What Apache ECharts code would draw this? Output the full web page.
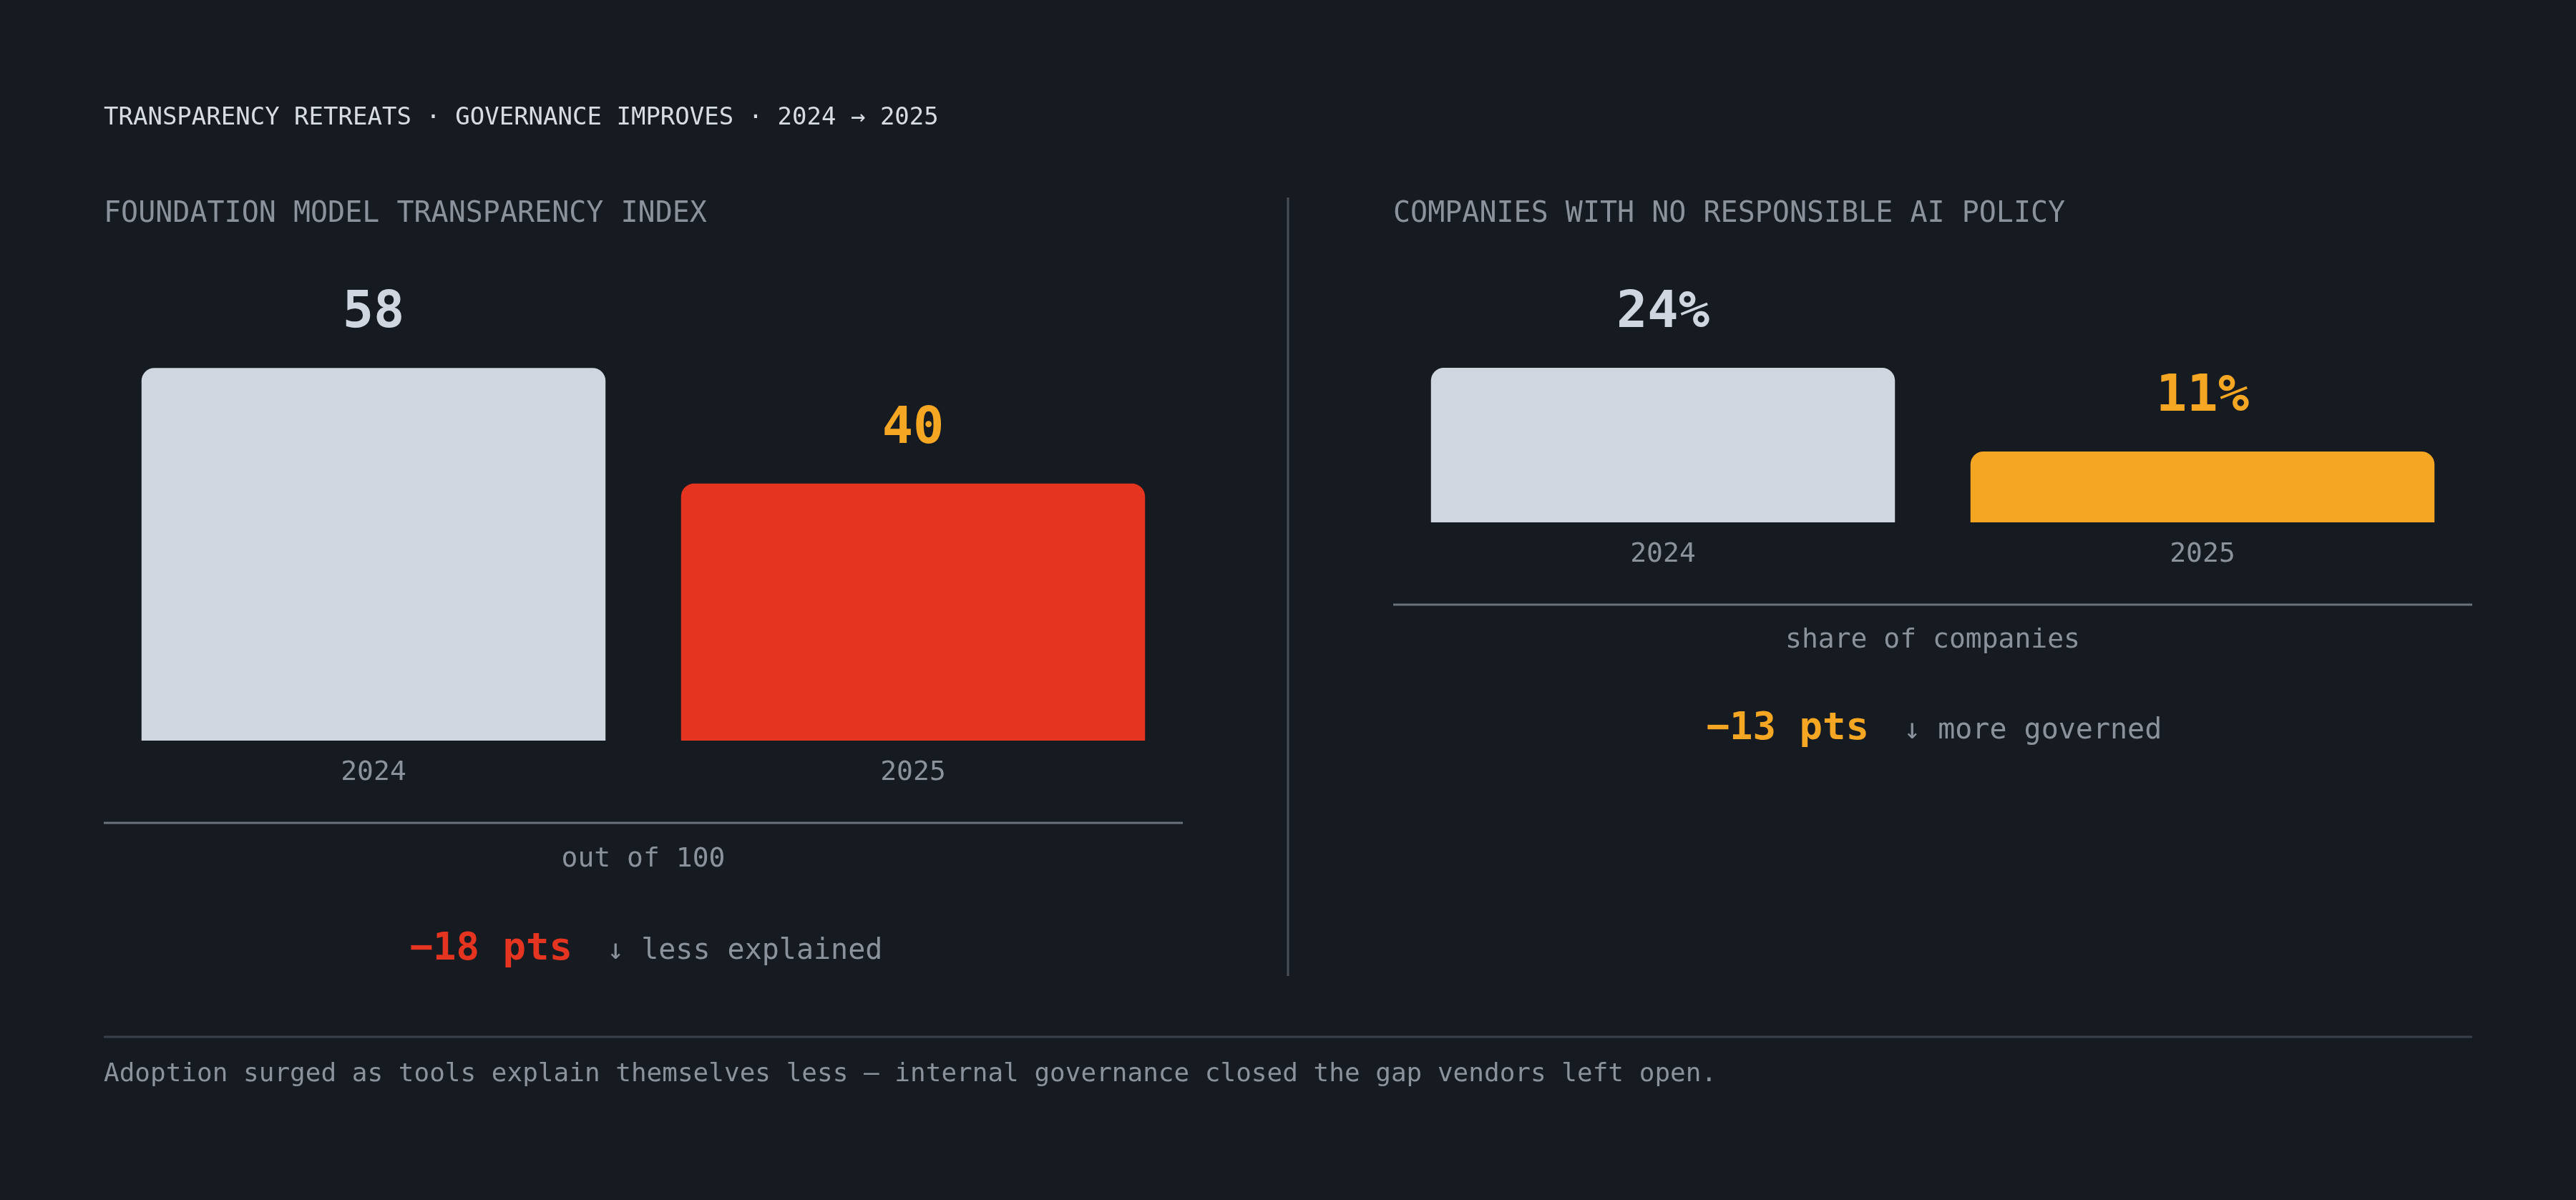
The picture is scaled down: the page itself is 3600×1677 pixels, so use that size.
<!DOCTYPE html>
<html><head><meta charset="utf-8">
<script src="https://cdn.jsdelivr.net/npm/echarts@6/dist/echarts.min.js"></script>
<style>html,body{margin:0;background:#161b22}#c{width:3600px;height:1677px}</style>
</head><body><div id="c"></div>
<script>
const years = ['2024', '2025'];
const transparency = [58, 40];
const noPolicy = [24, 11];
const leftColors = ['#cfd6e0', '#e5341f'];
const rightColors = ['#cfd6e0', '#f5a623'];
const leftLabelColors = ['#cfd6e0', '#f5a623'];
const rightLabelColors = ['#cfd6e0', '#f5a623'];

const F = '"DejaVu Sans Mono", "Liberation Mono", monospace';
const GRAY = '#8b929b';
const chart = echarts.init(document.getElementById('c'));
function bars(vals, cols, lcols, suffix, idx){
  return {type:'bar', xAxisIndex:idx, yAxisIndex:idx, barCategoryGap:'14%',
    data: vals.map((v,i)=>({value:v, itemStyle:{color:cols[i], borderRadius:[18,18,0,0]},
      label:{show:true, position:'top', distance:40, formatter:v+suffix, color:lcols[i],
        fontFamily:F, fontWeight:'bold', fontSize:72}}))};
}
function xa(idx){return {type:'category', gridIndex:idx, data:years, axisLine:{show:false}, axisTick:{show:false},
  axisLabel:{color:GRAY, fontFamily:F, fontSize:38, margin:26}};}
function ya(idx,max){return {type:'value', gridIndex:idx, min:0, max:max, show:false, splitLine:{show:false}};}
chart.setOption({
  backgroundColor:'#161b22',
  animation:false,
  grid:[{left:145, width:1508, top:137, height:898},{left:1947, width:1508, top:460, height:270}],
  xAxis:[xa(0), xa(1)],
  yAxis:[ya(0,100), ya(1,30)],
  series:[bars(transparency,leftColors,leftLabelColors,'',0), bars(noPolicy,rightColors,rightLabelColors,'%',1)],
  graphic:[
    {type:'text', left:145, top:148, style:{text:'TRANSPARENCY RETREATS · GOVERNANCE IMPROVES · 2024 → 2025', fill:'#d7dce3', font:'34px '+F}},
    {type:'text', left:145, top:280, style:{text:'FOUNDATION MODEL TRANSPARENCY INDEX', fill:GRAY, font:'40px '+F}},
    {type:'text', left:1947, top:280, style:{text:'COMPANIES WITH NO RESPONSIBLE AI POLICY', fill:GRAY, font:'40px '+F}},
    {type:'line', shape:{x1:1800,y1:276,x2:1800,y2:1364}, style:{stroke:'#4a5059', lineWidth:3}},
    {type:'line', shape:{x1:145,y1:1150,x2:1653,y2:1150}, style:{stroke:'#6b727b', lineWidth:3}},
    {type:'line', shape:{x1:1947,y1:845,x2:3455,y2:845}, style:{stroke:'#6b727b', lineWidth:3}},
    {type:'text', x:899, y:1201, style:{text:'out of 100', fill:GRAY, font:'38px '+F, align:'center', verticalAlign:'middle'}},
    {type:'text', x:2701, y:895, style:{text:'share of companies', fill:GRAY, font:'38px '+F, align:'center', verticalAlign:'middle'}},
    {type:'text', x:800, y:1327, style:{text:'−18 pts', fill:'#e5341f', font:'bold 54px '+F, align:'right', verticalAlign:'middle'}},
    {type:'text', x:848, y:1330, style:{text:'↓ less explained', fill:GRAY, font:'40px '+F, align:'left', verticalAlign:'middle'}},
    {type:'text', x:2612, y:1019, style:{text:'−13 pts', fill:'#f5a623', font:'bold 54px '+F, align:'right', verticalAlign:'middle'}},
    {type:'text', x:2660, y:1022, style:{text:'↓ more governed', fill:GRAY, font:'40px '+F, align:'left', verticalAlign:'middle'}},
    {type:'line', shape:{x1:145,y1:1449,x2:3455,y2:1449}, style:{stroke:'#3a4049', lineWidth:3}},
    {type:'text', left:145, top:1484, style:{text:'Adoption surged as tools explain themselves less — internal governance closed the gap vendors left open.', fill:GRAY, font:'36px '+F}}
  ]
});
</script></body></html>
